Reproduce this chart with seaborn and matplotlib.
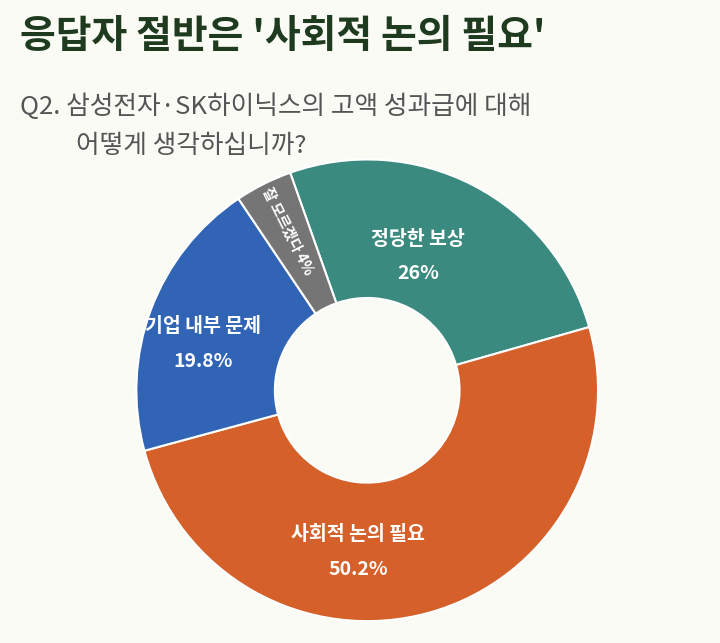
import matplotlib
matplotlib.use("Agg")
import matplotlib.pyplot as plt
import numpy as np
import seaborn as sns

sns.set_theme(style="white")
plt.rcParams["font.family"] = ["Noto Sans CJK KR", "DejaVu Sans"]

labels = ["정당한 보상", "사회적 논의 필요", "기업 내부 문제", "잘 모르겠다"]
values = [26, 50.2, 19.8, 4]
pct_text = ["26%", "50.2%", "19.8%", "4%"]
colors = ["#3b8a80", "#d5602a", "#3264b6", "#757575"]

# label anchor points in pie units (layout only)
label_pos = [(0.22, 0.58), (-0.04, -0.70), (-0.71, 0.20), (-0.34, 0.69)]

bg = "#fbfbf6"
fig = plt.figure(figsize=(7.2, 6.43), dpi=100, facecolor=bg)
fig.text(0.028, 0.925, "응답자 절반은 '사회적 논의 필요'", fontsize=28, fontweight="bold", color="#1f3b1f")
fig.text(0.028, 0.822, "Q2. 삼성전자·SK하이닉스의 고액 성과급에 대해", fontsize=18.5, color="#555555")
fig.text(0.105, 0.762, "어떻게 생각하십니까?", fontsize=18.5, color="#555555")

ax = fig.add_axes([0.189, 0.034, 0.642, 0.718])
ax.set_facecolor(bg)
start = 109.5
wedges, _ = ax.pie(values, colors=colors, startangle=start, counterclock=False,
                   radius=1, wedgeprops=dict(width=0.6, edgecolor="white", linewidth=1.5))
ax.set_xlim(-1, 1)
ax.set_ylim(-1, 1)
ax.set_aspect("equal")

ang = start
for i, v in enumerate(values):
    mid = ang - v * 3.6 / 2
    ang -= v * 3.6
    x, y = label_pos[i]
    if i == 3:
        ax.text(x, y, f"{labels[i]} {pct_text[i]}", color="white", fontsize=10.5,
                fontweight="bold", ha="center", va="center", rotation=mid - 180)
    else:
        ax.text(x, y + 0.075, labels[i], color="white", fontsize=14, fontweight="bold",
                ha="center", va="center")
        ax.text(x, y - 0.075, pct_text[i], color="white", fontsize=14, fontweight="bold",
                ha="center", va="center")

fig.savefig("out.png", dpi=100, facecolor=bg)
